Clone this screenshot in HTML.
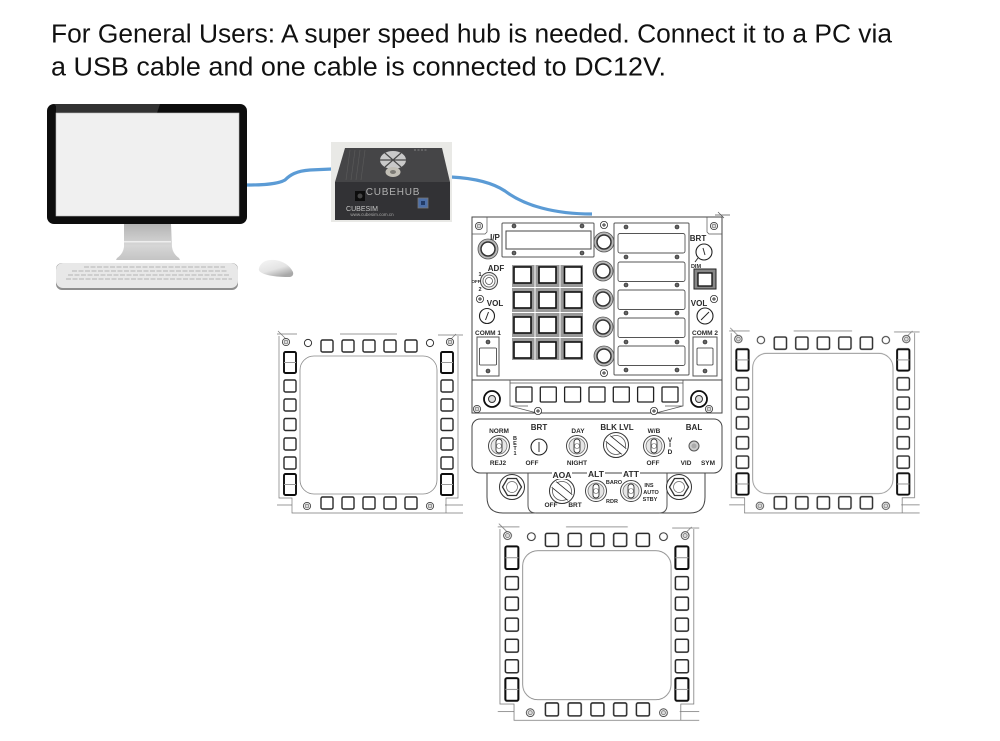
<!DOCTYPE html>
<html><head><meta charset="utf-8"><style>
html,body{margin:0;padding:0;background:#fff;width:1000px;height:741px;overflow:hidden}
svg{display:block}
text{font-family:"Liberation Sans",sans-serif}
.t{font-size:6.5px;font-weight:bold;fill:#2a2a2a;text-anchor:middle}
.s{font-size:5.5px;font-weight:bold;fill:#2a2a2a;text-anchor:middle}
</style></head><body>
<svg width="1000" height="741" viewBox="0 0 1000 741" xmlns="http://www.w3.org/2000/svg">
<defs>
<filter id="b" x="-2%" y="-2%" width="104%" height="104%"><feGaussianBlur stdDeviation="0.35"/></filter>
<linearGradient id="st" x1="0" y1="0" x2="0" y2="1"><stop offset="0" stop-color="#b4b4b4"/><stop offset=".6" stop-color="#d6d6d6"/><stop offset="1" stop-color="#c4c4c4"/></linearGradient>
<linearGradient id="mo" x1="0" y1="0" x2="0.6" y2="1"><stop offset="0" stop-color="#f6f6f6"/><stop offset=".6" stop-color="#e4e4e4"/><stop offset="1" stop-color="#a8a8a8"/></linearGradient>
<g id="sq"><rect x="0" y="0" width="12" height="12" rx="1.5" fill="#fff" stroke="#2a2a2a" stroke-width="1.4"/></g>
<g id="tl"><rect x="0" y="0" width="12" height="21" rx="1.5" fill="#fff" stroke="#111" stroke-width="1.900"/><line x1="0" y1="10.5" x2="12" y2="10.5" stroke="#999" stroke-width="1"/></g>
<g id="scr"><circle r="3.6" fill="#fff" stroke="#444" stroke-width=".9"/><circle r="1.9" fill="#ddd" stroke="#666" stroke-width=".7"/></g>
<g id="mfd" fill="none">
<path d="M279 336V498H292V513H463M458 336V498H446V513M277 505H292M445 505H463M277 334H297M340 334H397M438 335H463M278 331l8 8M447 343l9-9" stroke="#777" stroke-width=".7"/>
<rect x="300" y="356" width="137" height="138" rx="14" fill="#fff" stroke="#888" stroke-width=".8"/>
<use href="#scr" x="286" y="342"/><use href="#scr" x="450" y="342"/><use href="#scr" x="307" y="506"/><use href="#scr" x="430" y="506"/>
<circle cx="308" cy="343" r="3.6" fill="#fff" stroke="#333"/><circle cx="430" cy="343" r="3.6" fill="#fff" stroke="#333"/>
<use href="#sq" x="321" y="340"/><use href="#sq" x="342" y="340"/><use href="#sq" x="363" y="340"/><use href="#sq" x="384" y="340"/><use href="#sq" x="405" y="340"/>
<use href="#sq" x="321" y="497"/><use href="#sq" x="342" y="497"/><use href="#sq" x="363" y="497"/><use href="#sq" x="384" y="497"/><use href="#sq" x="405" y="497"/>
<use href="#tl" x="284" y="352"/><use href="#tl" x="284" y="474"/><use href="#tl" x="441" y="352"/><use href="#tl" x="441" y="474"/>
<use href="#sq" x="284" y="380"/><use href="#sq" x="284" y="399"/><use href="#sq" x="284" y="418.500"/><use href="#sq" x="284" y="438"/><use href="#sq" x="284" y="457"/>
<use href="#sq" x="441" y="380"/><use href="#sq" x="441" y="399"/><use href="#sq" x="441" y="418.500"/><use href="#sq" x="441" y="438"/><use href="#sq" x="441" y="457"/>
</g>
<g id="ps"><circle r="3.6" fill="#fff" stroke="#333" stroke-width=".8"/><path d="M-2 0H2M0-2V2" stroke="#333" stroke-width=".9"/></g>
<g id="ds"><circle r="2" fill="#666" stroke="#222" stroke-width=".6"/></g>
<g id="kn"><circle r="10" fill="#b8b8b8" stroke="#555" stroke-width=".8"/><circle r="7" fill="#fff" stroke="#333" stroke-width="1.500"/></g>
<g id="tg"><circle r="10.500" fill="#fff" stroke="#444" stroke-width="1"/><circle r="8" fill="#e6e6e6" stroke="#777" stroke-width=".8"/><rect x="-3" y="-7" width="6" height="14" rx="3" fill="#fff" stroke="#333" stroke-width=".9"/><circle r="2.500" fill="none" stroke="#666" stroke-width=".6"/></g>
<g id="hx"><circle r="12.500" fill="#fff" stroke="#333"/><path d="M-4.500-8.500L4.500-8.500 9.500 0 4.500 8.500-4.500 8.500-9.500 0Z" fill="#fff" stroke="#333" stroke-width="1.300"/><circle r="5.500" fill="#fff" stroke="#666" stroke-width=".7"/></g>
<g id="rk"><circle r="12.500" fill="#fff" stroke="#333"/><circle r="9.500" fill="none" stroke="#555" stroke-width=".8"/><path d="M-10-4L6 9M-6-9L10 4" stroke="#222" stroke-width="1.500"/><path d="M-10-4L6 9L10 4L-6-9Z" fill="#fff"/></g>
<g id="win"><rect x="0" y="0" width="67" height="19.500" rx="2" fill="#fff" stroke="#555" stroke-width=".9"/></g>
<g id="kb"><rect x="0" y="0" width="17" height="16" fill="#fff" stroke="#111" stroke-width="1.600"/></g>
</defs>

<text x="51" y="42.700" font-size="25.500" fill="#111" textLength="841" lengthAdjust="spacingAndGlyphs">For General Users: A super speed hub is needed. Connect it to a PC via</text>
<text x="51" y="75.700" font-size="25.500" fill="#111" textLength="615" lengthAdjust="spacingAndGlyphs">a USB cable and one cable is connected to DC12V.</text>

<!-- monitor -->
<g filter="url(#b)">
<path d="M124 224h47l1 23q1 7 7 11l1 2H116l1-2q6-4 7-11Z" fill="url(#st)"/>
<rect x="124" y="241" width="47" height="1.500" fill="#eee"/>
<rect x="47" y="104" width="200" height="120" rx="7" fill="#0c0c0c"/>
<path d="M54 104H160L157 113H56V106Z" fill="#303030"/>
<rect x="56" y="113" width="183" height="103" fill="#f0f0f0" stroke="#bbb" stroke-width=".6"/>
<rect x="56" y="263" width="182" height="27" rx="6" fill="#8f8f8f"/>
<rect x="56" y="263" width="182" height="25" rx="7" fill="#e8e8e8"/>
<g stroke="#bfbfbf" stroke-width="1.300" stroke-dasharray="5 1.500"><path d="M84 267H225M72 271H228M68 275H230M66 279H232"/></g>
<path d="M259 268Q262 259 275 260Q288 262 293 272Q294 276 290 277Q270 277 262 273Q258 271 259 268Z" fill="url(#mo)"/>
</g>

<!-- cables -->
<g fill="none" stroke="#5b9bd5" stroke-width="3.200">
<path d="M247 185C265 185 278 184 285 180C290 175 296 171 310 170L332 169"/>
<path d="M451 177C470 178 490 181 505 191C525 206 555 214 592 214"/>
</g>

<!-- hub -->
<g filter="url(#b)">
<rect x="331" y="142" width="121" height="80" fill="#e9e9e6"/>
<path d="M345 148H442L450 182H335Z" fill="#444446"/>
<rect x="335" y="182" width="115" height="38" fill="#323234"/>
<path d="M350 150l-4 30M355 150l-4 30M360 150l-4 30M365 150l-4 30" stroke="#5a5a5a" stroke-width=".7"/>
<path d="M414 150h14" stroke="#777" stroke-width="1.200" stroke-dasharray="2 1.500"/>
<ellipse cx="393" cy="160" rx="13" ry="9" fill="#c9c9c9"/>
<path d="M380 160h26M385 153l16 14M401 153l-16 14" stroke="#4a4a4a" stroke-width="1.200"/>
<ellipse cx="393" cy="172" rx="7.500" ry="5" fill="#c2bfb6"/>
<ellipse cx="393" cy="172" rx="3" ry="2" fill="#7b7a74"/>
<rect x="355" y="191" width="10" height="10" fill="#111"/><circle cx="360" cy="196" r="2.500" fill="#444"/>
<rect x="418" y="198" width="10" height="10" fill="#4e70a8" stroke="#777" stroke-width=".8"/>
<rect x="421" y="201" width="4" height="4" fill="#223a66"/>
<text x="393" y="195" font-size="10" fill="#b0b0b0" text-anchor="middle" letter-spacing=".8">CUBEHUB</text>
<text x="362" y="211" font-size="7" fill="#c8c8c8" text-anchor="middle">CUBESIM</text>
<text x="372" y="216" font-size="4.500" fill="#a8a8a8" text-anchor="middle">www.cubesim.com.cn</text>
</g>

<!-- MFDs -->
<g filter="url(#b)">
<use href="#mfd"/>
<use href="#mfd" transform="translate(445.5,-8.75) scale(1.024,1.017)"/>
<use href="#mfd" transform="translate(197.8,166.2) scale(1.083,1.08)"/>
</g>

<!-- main panel -->
<g filter="url(#b)" fill="none">
<path d="M472 217H722V413H472Z" fill="#fff" stroke="#444" stroke-width="1"/>
<path d="M472 380H722M472 413H722M510 380H683" stroke="#444" stroke-width=".9"/>
<path d="M472 234H485L487 232V217M722 234H709L707 232V217M718 212l6 6M715 215h15" stroke="#555" stroke-width=".7"/>
<use href="#scr" x="479" y="226"/><use href="#scr" x="714" y="226"/>
<rect x="502" y="223" width="92" height="34" rx="1" fill="#fff" stroke="#555"/>
<rect x="506" y="231" width="85" height="18" fill="#fff" stroke="#444"/>
<use href="#ds" x="514" y="226"/><use href="#ds" x="582" y="226"/><use href="#ds" x="514" y="253"/><use href="#ds" x="582" y="253"/>
<use href="#kn" x="488" y="249"/>
<use href="#kn" x="604" y="242"/><use href="#kn" x="603" y="271"/><use href="#kn" x="603" y="299"/><use href="#kn" x="603" y="327"/><use href="#kn" x="604" y="356"/>
<use href="#ps" x="604" y="225"/><use href="#ps" x="604" y="373"/><use href="#ps" x="480" y="299"/><use href="#ps" x="714" y="299"/>
<circle cx="489" cy="281" r="8.500" fill="#eee" stroke="#444"/><circle cx="489" cy="281" r="6" fill="#fff" stroke="#555" stroke-width=".8"/><circle cx="489" cy="281" r="3.500" fill="#fff" stroke="#555" stroke-width=".8"/>
<circle cx="487" cy="316" r="7.500" fill="#fff" stroke="#222" stroke-width="1.100"/><path d="M485.500 320l3-8" stroke="#222"/>
<circle cx="705" cy="316" r="8" fill="#fff" stroke="#222" stroke-width="1.100"/><path d="M701 320l8-8" stroke="#222"/>
<circle cx="704" cy="252" r="8" fill="#fff" stroke="#222" stroke-width="1.100"/><path d="M703 248l2 7M698 258l-3 4" stroke="#333"/>
<rect x="477" y="337" width="22" height="39" fill="#fff" stroke="#555"/><rect x="479.500" y="348" width="17" height="17" rx="1" fill="#fff" stroke="#333" stroke-width=".8"/>
<use href="#ds" x="488" y="342"/><use href="#ds" x="488" y="371"/>
<rect x="693" y="337" width="24" height="39" fill="#fff" stroke="#555"/><rect x="697" y="348" width="16" height="17" rx="1" fill="#fff" stroke="#333" stroke-width=".8"/>
<use href="#ds" x="705" y="342"/><use href="#ds" x="705" y="371"/>
<rect x="694" y="269" width="22" height="20" fill="#888" stroke="#222"/><rect x="698" y="273" width="14" height="13" fill="#fff" stroke="#111" stroke-width="1.300"/>
<!-- keypad -->
<rect x="512" y="265" width="71" height="95" fill="#999"/>
<path d="M512 287.500H583M512 312.500H583M512 337.500H583" stroke="#fff" stroke-width="1"/>
<path d="M535 265V360M560 265V360" stroke="#fff" stroke-width="1"/>
<use href="#kb" x="514" y="267"/><use href="#kb" x="539" y="267"/><use href="#kb" x="564.500" y="267"/>
<use href="#kb" x="514" y="292"/><use href="#kb" x="539" y="292"/><use href="#kb" x="564.500" y="292"/>
<use href="#kb" x="514" y="317"/><use href="#kb" x="539" y="317"/><use href="#kb" x="564.500" y="317"/>
<use href="#kb" x="514" y="342"/><use href="#kb" x="539" y="342"/><use href="#kb" x="564.500" y="342"/>
<!-- right windows -->
<rect x="614" y="223" width="75" height="152" rx="1" fill="#fff" stroke="#555"/>
<use href="#win" x="618" y="233.500"/><use href="#win" x="618" y="262"/><use href="#win" x="618" y="290"/><use href="#win" x="618" y="318"/><use href="#win" x="618" y="346"/>
<use href="#ds" x="626" y="227"/><use href="#ds" x="677" y="227"/><use href="#ds" x="626" y="257"/><use href="#ds" x="677" y="257"/><use href="#ds" x="626" y="285"/><use href="#ds" x="677" y="285"/><use href="#ds" x="626" y="313"/><use href="#ds" x="677" y="313"/><use href="#ds" x="626" y="342"/><use href="#ds" x="677" y="342"/><use href="#ds" x="626" y="370"/><use href="#ds" x="677" y="370"/>
<!-- button row -->
<path d="M510 380V406L537 413M683 380V406L656 413M510 383H683M510 406H528M665 406H683" stroke="#555" stroke-width=".8"/>
<g fill="#fff" stroke="#222" stroke-width="1.300">
<rect x="516" y="387" width="16" height="15" rx="1"/><rect x="540.300" y="387" width="16" height="15" rx="1"/><rect x="564.600" y="387" width="16" height="15" rx="1"/><rect x="589" y="387" width="16" height="15" rx="1"/><rect x="613.300" y="387" width="16" height="15" rx="1"/><rect x="637.600" y="387" width="16" height="15" rx="1"/><rect x="662" y="387" width="16" height="15" rx="1"/>
</g>
<circle cx="492" cy="399" r="8" fill="#fff" stroke="#111" stroke-width="1.800"/><circle cx="492" cy="399" r="3.500" fill="#ddd" stroke="#333"/>
<circle cx="699" cy="399" r="8" fill="#fff" stroke="#111" stroke-width="1.800"/><circle cx="699" cy="399" r="3.500" fill="#ddd" stroke="#333"/>
<use href="#scr" x="477" y="409"/><use href="#scr" x="709" y="409"/>
<use href="#ps" x="538" y="411"/><use href="#ps" x="654" y="411"/>
<!-- lower panel -->
<path d="M487 473V497Q487 513 503 513H690Q705 513 705 497V473" fill="#fff" stroke="#444"/>
<path d="M528 473V505Q528 513 536 513M667 473V505Q667 513 659 513" stroke="#555"/>
<rect x="472" y="419" width="250" height="54" rx="8" fill="#fff" stroke="#444"/>
<use href="#tg" x="499" y="446"/><use href="#tg" x="577" y="446"/><use href="#tg" x="654" y="446"/>
<circle cx="539" cy="447" r="8" fill="#fff" stroke="#222" stroke-width="1.100"/><path d="M539 442v10" stroke="#333"/>
<use href="#rk" x="616" y="445"/>
<circle cx="694" cy="446" r="5" fill="#ccc" stroke="#555"/><circle cx="694" cy="446" r="2.500" fill="#aaa"/>
<use href="#hx" x="512" y="487"/><use href="#hx" x="679" y="487"/>
<use href="#rk" x="562" y="491"/>
<use href="#tg" x="596" y="491"/><use href="#tg" x="631" y="491"/>
<rect x="552" y="470" width="20" height="9" fill="#fff"/><rect x="587" y="469" width="18" height="9" fill="#fff"/><rect x="622" y="469" width="18" height="9" fill="#fff"/>
</g>
<g filter="url(#b)">
<text class="t" x="495" y="240" style="font-size:8px">I/P</text>
<text class="t" x="496" y="271" style="font-size:8px">ADF</text>
<text class="s" x="480" y="276">1</text><text class="s" x="476" y="283" style="font-size:4.500px">OFF</text><text class="s" x="480" y="291">2</text>
<text class="t" x="495" y="306" style="font-size:8px">VOL</text>
<text class="t" x="488" y="335">COMM 1</text>
<text class="t" x="698" y="241" style="font-size:8px">BRT</text>
<text class="s" x="696" y="268">DIM</text>
<text class="t" x="699" y="306" style="font-size:8px">VOL</text>
<text class="t" x="705" y="335">COMM 2</text>
<text class="t" x="499" y="433">NORM</text>
<text class="t" x="498" y="465">REJ2</text>
<text class="t" x="539" y="430" style="font-size:8px">BRT</text>
<text class="t" x="532" y="465">OFF</text>
<text class="t" x="578" y="433">DAY</text>
<text class="t" x="577" y="465">NIGHT</text>
<text class="t" x="617" y="430" style="font-size:8px">BLK LVL</text>
<text class="t" x="654" y="433">W/B</text>
<text class="t" x="653" y="465">OFF</text>
<text class="t" x="670" y="442">V</text><text class="t" x="670" y="447">I</text><text class="t" x="670" y="454">D</text>
<text class="s" x="515" y="440">B</text><text class="s" x="515" y="445">E</text><text class="s" x="515" y="450">T</text><text class="s" x="515" y="455">1</text>
<text class="t" x="694" y="430" style="font-size:8px">BAL</text>
<text class="t" x="686" y="465">VID</text>
<text class="t" x="708" y="465">SYM</text>
<text class="t" x="562" y="478" style="font-size:8.500px">AOA</text>
<text class="t" x="551" y="507">OFF</text>
<text class="t" x="575" y="507">BRT</text>
<text class="t" x="596" y="477" style="font-size:8.500px">ALT</text>
<text class="t" x="631" y="477" style="font-size:8.500px">ATT</text>
<text class="s" x="614" y="484">BARO</text>
<text class="s" x="612" y="503">RDR</text>
<text class="s" x="649" y="487">INS</text>
<text class="s" x="651" y="494">AUTO</text>
<text class="s" x="650" y="501">STBY</text>
</g>
</svg>
</body></html>
